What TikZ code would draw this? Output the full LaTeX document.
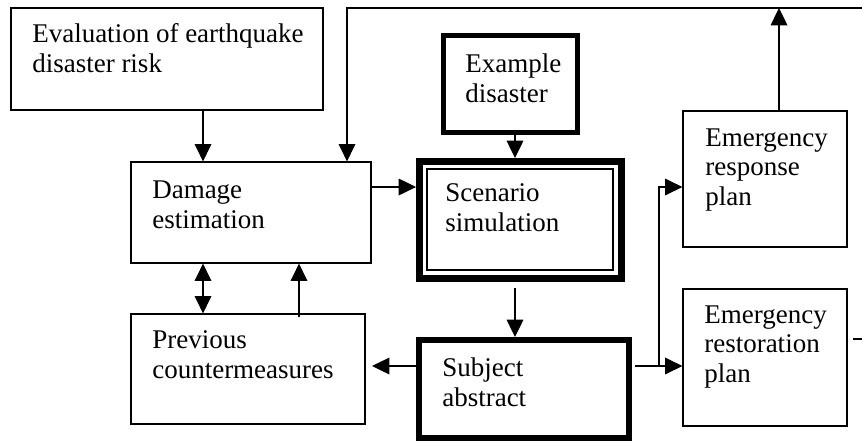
\documentclass[tikz,border=0pt]{standalone}
\usepackage{fontspec}
\setmainfont{Liberation Serif}
\usetikzlibrary{arrows.meta,fit}
\begin{document}
\begin{tikzpicture}[x=0.75pt,y=-0.75pt,
  box/.style={draw, line width=0.9pt, inner sep=0pt},
  thickbox/.style={box, line width=#1},
  % labels are placed by the baseline of their last line
  txt/.style={anchor=base west, align=left, inner sep=0pt,
    font=\fontsize{20.25pt}{22.3pt}\selectfont},
  conn/.style={line width=0.9pt},
  arr/.style={conn, -{Triangle[length=13pt,width=12.5pt]}},
  arrboth/.style={conn, {Triangle[length=13pt,width=12.5pt]}-{Triangle[length=13pt,width=12.5pt]}}
]
\clip (0,0) rectangle (862,443);

% boxes
\node[box, fit={(11,8) (323,110)}] (eval) {};
\node[box, fit={(131,162) (371,263)}] (damage) {};
\node[thickbox=3.6pt, fit={(443.5,35.5) (577.5,132.5)}] (example) {};
\node[thickbox=5.2pt, fit={(419.5,161.5) (621.5,278.5)}] (scen) {};
\node[thickbox=1.3pt, fit={(427,169) (613,270)}] (scenin) {};
\node[thickbox=4.5pt, fit={(419,340) (629,438)}] (subject) {};
\node[box, fit={(131,314) (365,424)}] (prev) {};
\node[box, fit={(683,111) (847,247)}] (resp) {};
\node[box, fit={(683,289) (847,426)}] (rest) {};

% labels
\node[txt] (evalt) at (32,72.7) {Evaluation of earthquake\\disaster risk};
\node[txt] (damaget) at (152,228.7) {Damage\\estimation};
\node[txt] (examplet) at (465,102.7) {Example\\disaster};
\node[txt] (scent) at (445,231.7) {Scenario\\simulation};
\node[txt] (prevt) at (152,378.7) {Previous\\countermeasures};
\node[txt] (subjectt) at (442,406.7) {Subject\\abstract};
\node[txt] (respt) at (705,205.5) {Emergency\\response\\plan};
\node[txt] (restt) at (704,382.5) {Emergency\\restoration\\plan};

% routing columns and rows
\coordinate (xa) at (203,0);
\coordinate (xb) at (299,0);
\coordinate (xc) at (347,0);
\coordinate (xd) at (515,0);
\coordinate (xe) at (659,0);
\coordinate (xf) at (779,0);
\coordinate (xr) at (880,0);
\coordinate (ytop) at (0,8);
\coordinate (ya) at (0,187);
\coordinate (yb) at (0,366);
\coordinate (yc) at (0,339);
\coordinate (prevtip) at (372,366);

% connectors
\draw[arr] (eval.south -| xa) -- (damage.north -| xa);
\draw[arr] (damage.east |- ya) -- (scen.west |- ya);
\draw[arr] (example.south -| xd) -- (scen.north -| xd);
\draw[arr] ([yshift=-4.5pt]scen.south -| xd) -- (subject.north -| xd);
\draw[arr] (subject.west |- yb) -- (prevtip);
\draw[arrboth] (damage.south -| xa) -- (prev.north -| xa);
\draw[arr] ([yshift=-3pt]prev.north -| xb) -- (damage.south -| xb);
\draw[conn] ([xshift=2pt]subject.east |- yb) -- (xe |- yb);
\draw[arr] (xe |- yb) -- (rest.west |- yb);
\draw[arr] (xe |- yb) -- (xe |- ya) -- (resp.west |- ya);
\draw[arr] (resp.north -| xf) -- (xf |- ytop);
\draw[arr] ([xshift=4pt]rest.east |- yc) -- (xr |- yc) -- (xr |- ytop)
  -- (xc |- ytop) -- (damage.north -| xc);
\end{tikzpicture}
\end{document}
